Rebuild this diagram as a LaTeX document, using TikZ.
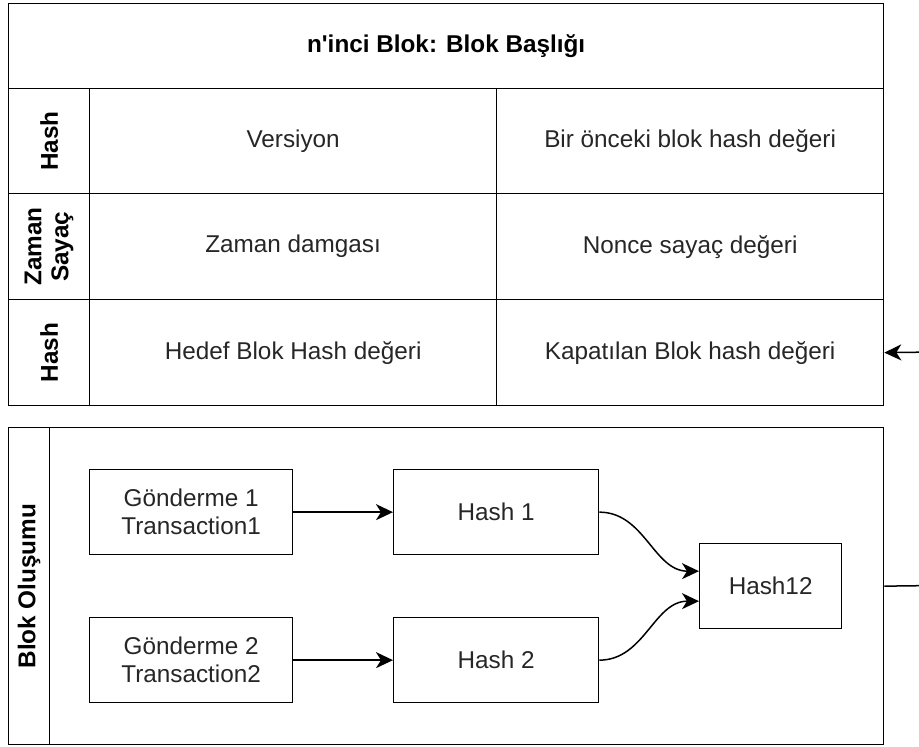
\documentclass[tikz,border=0pt]{standalone}
\usepackage{fontspec}
\setmainfont{Liberation Sans}[Ligatures=TeXOff]
\usetikzlibrary{arrows.meta}
\begin{document}
\begin{tikzpicture}[x=1pt,y=-1pt,
  cell/.style={draw=black,line width=1.3pt,inner sep=0pt,anchor=north west,
    font=\fontsize{24.3}{28}\selectfont,align=center,text=black!85},
  lbl/.style={font=\bfseries\fontsize{24.3}{27}\selectfont,align=center,rotate=90,text=black},
  conn/.style={draw=black,line width=1.5pt,-{Stealth[length=17pt,width=16pt,inset=5pt]}},
  plain/.style={draw=black,line width=1.3pt}]
\useasboundingbox (0,0) rectangle (919,747);
% top table
\node[cell,minimum width=875pt,minimum height=85pt,font=\bfseries\fontsize{24.3}{28}\selectfont,text=black] (title) at (8,3) {n'inci Blok: Blok Başlığı};
\node[cell,minimum width=81pt,minimum height=105pt] (l1) at (8,88) {};
\node[cell,minimum width=407pt,minimum height=105pt] (a1) at (89,88) {Versiyon};
\node[cell,minimum width=387pt,minimum height=105pt] (b1) at (496,88) {Bir önceki blok hash değeri};
\node[cell,minimum width=81pt,minimum height=106pt] (l2) at (8,193) {};
\node[cell,minimum width=407pt,minimum height=106pt] (a2) at (89,193) {Zaman damgası};
\node[cell,minimum width=387pt,minimum height=106pt] (b2) at (496,193) {Nonce sayaç değeri};
\node[cell,minimum width=81pt,minimum height=106pt] (l3) at (8,299) {};
\node[cell,minimum width=407pt,minimum height=106pt] (a3) at (89,299) {Hedef Blok Hash değeri};
\node[cell,minimum width=387pt,minimum height=106pt] (b3) at (496,299) {Kapatılan Blok hash değeri};
\node[lbl] (t1) at (l1.center) {Hash};
\node[lbl] (t2) at (l2.center) {Zaman\\Sayaç};
\node[lbl] (t3) at (l3.center) {Hash};
% lower box
\node[cell,minimum width=875pt,minimum height=317pt] (outer) at (8,427) {};
\node[cell,minimum width=41pt,minimum height=317pt] (ol) at (8,427) {};
\node[lbl] (t4) at (ol.center) {Blok Oluşumu};
\node[cell,minimum width=203pt,minimum height=85pt] (tx1) at (89,469) {Gönderme 1\\Transaction1};
\node[cell,minimum width=205pt,minimum height=85pt] (h1) at (393,469) {Hash 1};
\node[cell,minimum width=203pt,minimum height=85pt] (tx2) at (89,617) {Gönderme 2\\Transaction2};
\node[cell,minimum width=205pt,minimum height=85pt] (h2) at (393,617) {Hash 2};
\node[cell,minimum width=142pt,minimum height=85pt] (h12) at (699,543) {Hash12};
% connectors
\draw[conn] (tx1.east) -- (h1.west);
\draw[conn] (tx2.east) -- (h2.west);
\draw[conn] (h1.east) to[out=0,in=180] ([yshift=15pt]h12.west);
\draw[conn] (h2.east) to[out=0,in=180] ([yshift=-15pt]h12.west);
\coordinate (r1) at (935,585.5);
\coordinate (r2) at (935,352);
\draw[conn] (outer.east) -- (r1) -- (r2) -- (b3.east);
\end{tikzpicture}
\end{document}
